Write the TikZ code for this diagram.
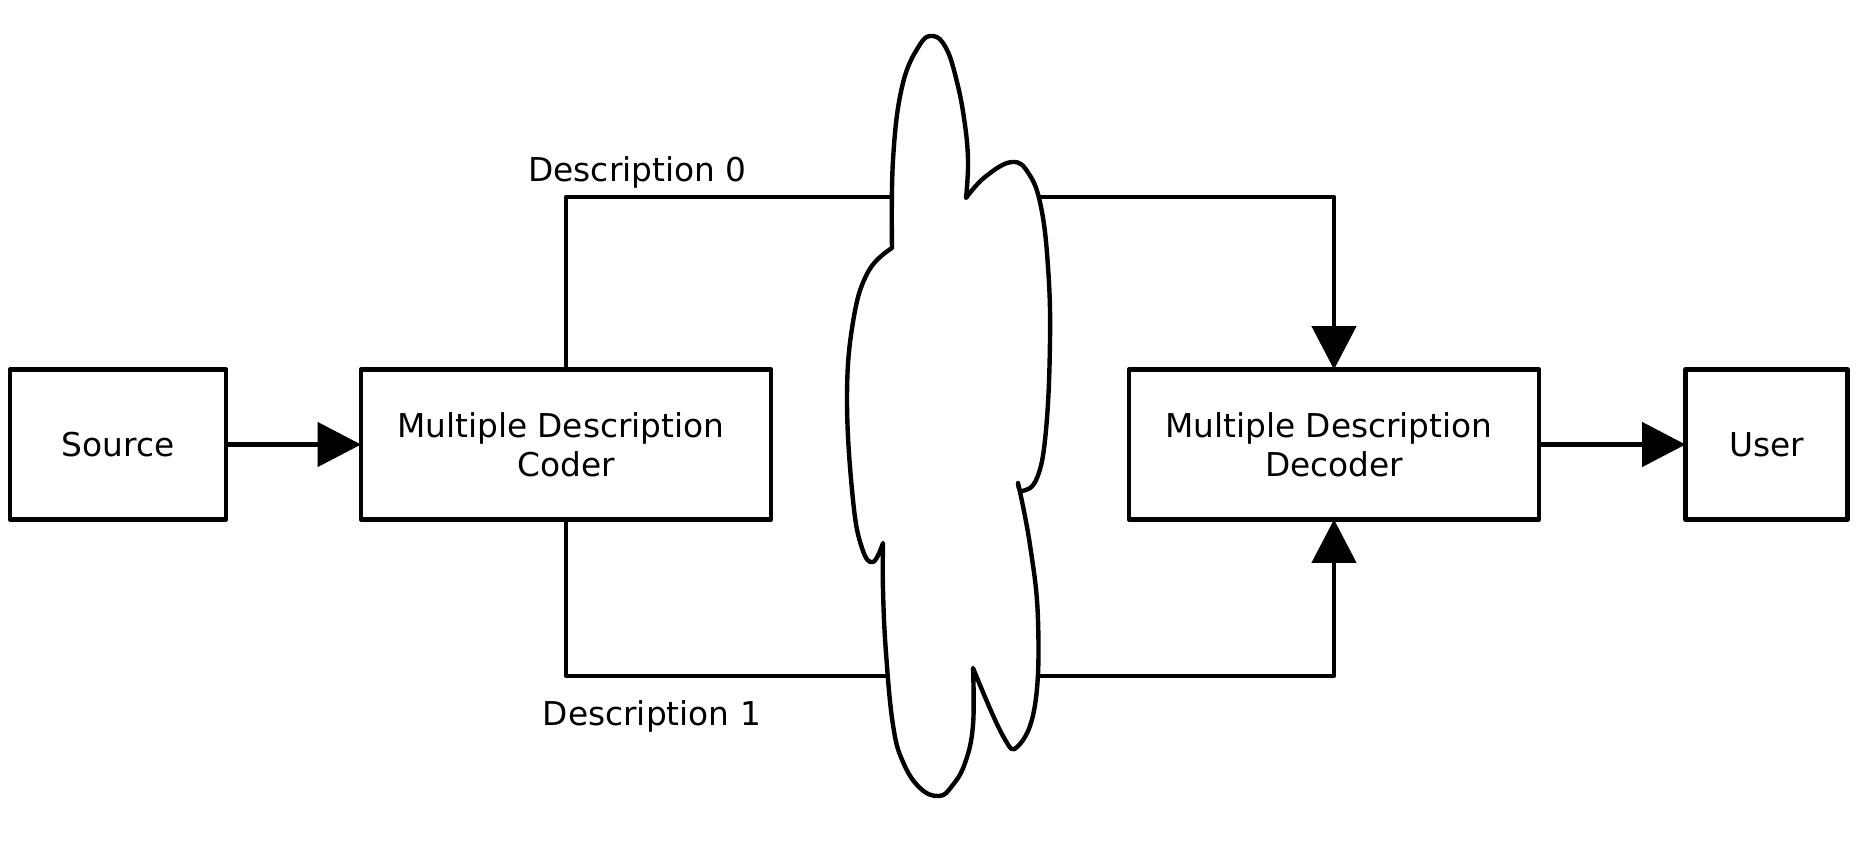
\documentclass[tikz,border=0pt]{standalone}
\usepackage{fontspec}
\setmainfont{DejaVu Sans}
\usetikzlibrary{arrows.meta}
\tikzset{
  >={Triangle[length=32.5pt,width=33pt]},
  block/.style={draw,line width=3.3pt,line join=round,outer sep=0pt,minimum height=112.5pt,align=center},
  link/.style={draw,line width=3.3pt,line join=round},
  label/.style={inner sep=0pt}
}

\begin{document}
\begin{tikzpicture}[x=0.75pt,y=-0.75pt,font=\fontsize{24.6}{29.25}\selectfont]
\useasboundingbox (0,0) rectangle (1857,843);
\node[block,minimum width=162pt] (source) at (118,444.5) {Source};
\node[block,minimum width=307.5pt] (coder) at (566,444.5) {\mbox{Multiple Description\ }\\Coder};
\node[block,minimum width=307.5pt] (decoder) at (1334,444.5) {\mbox{Multiple Description\ }\\Decoder};
\node[block,minimum width=121.5pt] (user) at (1766.5,444.5) {User};
\coordinate (top) at (950,197);
\coordinate (bottom) at (950,676);
\node[label] (desc0) at (637.5,172) {Description 0};
\node[label] (desc1) at (652,716) {Description 1};
\draw[link,->] (source) -- (coder);
\draw[link,->] (decoder) -- (user);
\draw[link,->] (coder.north) |- (top) -| (decoder.north);
\draw[link,->] (coder.south) |- (bottom) -| (decoder.south);
% channel cloud, one smooth piece per lobe
\draw[fill=white,line width=3.3pt,line join=round]
  plot[smooth,tension=0.7] coordinates {(892,248) (893,160) (902,87) (919,46) (933,36) (946,48) (956,78) (964,118) (968,160) (966,198)}
  -- plot[smooth,tension=0.7] coordinates {(966,198) (985,177) (1012,162) (1029,174) (1041,207) (1048,267) (1050,340) (1046,430) (1037,478) (1022,491) (1018,483)}
  -- plot[smooth,tension=0.7] coordinates {(1018,483) (1030,545) (1038,620) (1035,705) (1018,746) (1003,736) (973,668)}
  -- plot[smooth,tension=0.7] coordinates {(973,668) (973,725) (965,763) (952,786) (939,796) (920,788) (903,762) (893,725) (886,653) (883,590) (883,543)}
  -- plot[smooth,tension=0.7] coordinates {(883,543) (873,562) (862,548) (853,500) (847,400) (853,322) (868,272) (892,248)}
  -- cycle;
\end{tikzpicture}
\end{document}
